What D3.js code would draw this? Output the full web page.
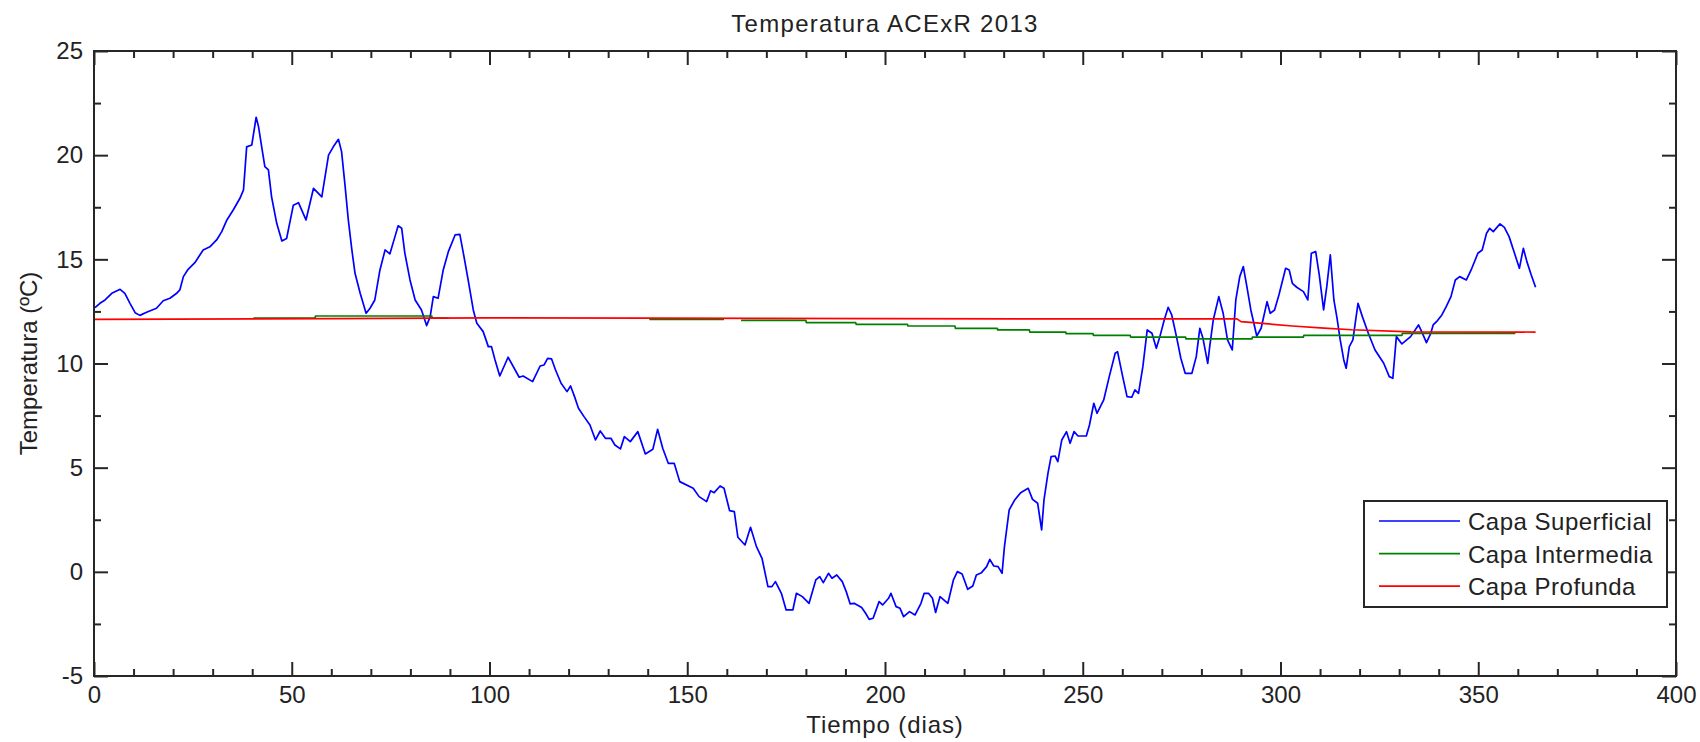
<!DOCTYPE html>
<html>
<head>
<meta charset="utf-8">
<script src="https://cdn.jsdelivr.net/npm/d3@7"></script>
<style>
  html, body { margin: 0; padding: 0; background: #ffffff; }
  svg { display: block; }
  text { font-family: "Liberation Sans", Arial, sans-serif; fill: #222; }
</style>
</head>
<body>
<svg id="chart" width="1700" height="742"></svg>
<script>
// ---------- DATA ----------
const titleText = "Temperatura ACExR 2013";
const xLabelText = "Tiempo (dias)";
const yLabelText = "Temperatura (ºC)";
const seriesNames = ["Capa Superficial", "Capa Intermedia", "Capa Profunda"];
const seriesColors = ["#0000ff", "#008000", "#ff0000"];
const xTicks = [0, 50, 100, 150, 200, 250, 300, 350, 400];
const yTicks = [-5, 0, 5, 10, 15, 20, 25];

// Capa Superficial: [day, temperature]
const superficial = [
  [0.25,12.68],[1.5,12.89],[2.8,13.05],[4.5,13.37],[6.6,13.56],[7.8,13.37],[9.1,12.89],[10.4,12.44],
  [11.6,12.31],[13.3,12.46],[15.8,12.65],[17.5,13.01],[19.2,13.13],[20.9,13.37],[21.7,13.53],[22.6,14.17],
  [23.8,14.52],[25.5,14.84],[27.6,15.45],[29.3,15.6],[31,15.93],[32.3,16.33],[33.6,16.89],[35.2,17.37],
  [36.9,17.93],[37.8,18.33],[38.6,20.4],[39.9,20.49],[41,21.82],[41.6,21.37],[42.4,20.4],[43.2,19.45],
  [44.1,19.29],[44.9,18.0],[46.2,16.73],[47.5,15.88],[48.7,16.0],[50.4,17.6],[51.7,17.72],[53.6,16.89],
  [55.5,18.41],[57.6,18.0],[59.3,20.0],[60.5,20.4],[61.8,20.76],[62.6,20.17],[63.5,18.49],[64.3,16.89],
  [65.2,15.45],[66,14.33],[67.3,13.37],[68.8,12.41],[69.8,12.65],[71,13.05],[72.3,14.49],[73.6,15.45],
  [74.8,15.26],[76.1,16.09],[76.9,16.61],[77.8,16.49],[78.6,15.29],[79.9,14.01],[81.2,13.05],[82.8,12.57],
  [84.1,11.82],[85,12.25],[85.8,13.21],[87,13.13],[88.3,14.49],[89.6,15.37],[91.3,16.17],[92.5,16.2],
  [93.4,15.29],[94.6,14.01],[95.9,12.57],[96.8,11.93],[98.4,11.53],[99.7,10.81],[100.5,10.81],[101.4,10.17],
  [102.6,9.4],[104.7,10.3],[107.5,9.34],[108.5,9.4],[110.9,9.13],[112.8,9.88],[113.8,9.93],[114.7,10.25],
  [115.7,10.22],[116.7,9.69],[118.1,9.05],[119.6,8.65],[120.5,8.92],[121.5,8.41],[122.5,7.85],[123.9,7.45],
  [125.4,7.05],[126.8,6.33],[128,6.76],[129.3,6.41],[130.7,6.41],[131.7,6.09],[133.1,5.9],[134.1,6.49],
  [135.6,6.25],[137.5,6.73],[139.4,5.66],[141.3,5.88],[142.5,6.84],[143.8,5.93],[145.2,5.21],[146.7,5.21],
  [148.1,4.33],[151.5,4.01],[153,3.61],[154.9,3.37],[155.9,3.89],[156.8,3.8],[158.3,4.12],[159.3,4.01],
  [160.7,2.94],[161.9,2.89],[162.8,1.66],[164.6,1.29],[166,2.14],[167.5,1.21],[168.9,0.65],[170.4,-0.71],
  [171.4,-0.71],[172.3,-0.47],[173.8,-1.03],[175,-1.83],[176.7,-1.83],[177.6,-1.03],[179.1,-1.19],[180.8,-1.51],
  [182.5,-0.39],[183.5,-0.23],[184.4,-0.52],[185.7,-0.07],[186.6,-0.31],[187.8,-0.15],[189.2,-0.47],[190.2,-0.95],
  [191.2,-1.54],[192.2,-1.51],[194.1,-1.71],[195.1,-1.99],[196,-2.28],[197,-2.23],[198.5,-1.43],[199.4,-1.59],
  [200.9,-1.27],[201.5,-1.03],[202.8,-1.67],[203.8,-1.75],[204.7,-2.15],[206.2,-1.91],[207.6,-2.07],[209.1,-1.51],
  [209.9,-1.03],[211,-1.03],[212,-1.27],[212.8,-1.95],[213.9,-1.19],[215.9,-1.51],[217.3,-0.39],[218.3,0.01],
  [219.5,-0.1],[220.9,-0.84],[222.2,-0.68],[223.1,-0.15],[224.4,-0.04],[225.7,0.25],[226.5,0.6],[227.5,0.28],
  [228.6,0.25],[229.6,-0.07],[230.2,1.21],[231.4,2.97],[232.8,3.45],[234.3,3.8],[236.2,4.01],[237.3,3.48],
  [238.6,3.29],[239.6,2.01],[240.2,3.45],[241.2,4.73],[242,5.53],[243,5.56],[243.7,5.29],[244.7,6.33],
  [245.9,6.73],[246.8,6.17],[247.8,6.73],[248.8,6.52],[250.9,6.52],[251.7,7.05],[252.8,8.09],[253.6,7.61],
  [255.3,8.25],[256.7,9.37],[258.2,10.49],[258.8,10.57],[260.1,9.37],[261.2,8.41],[262.4,8.38],[263.2,8.73],
  [264.1,8.57],[265.2,9.85],[266.3,11.61],[267.5,11.45],[268.6,10.73],[269.5,11.29],[270.6,12.09],[271.6,12.7],
  [272.5,12.33],[273.7,11.29],[274.8,10.25],[275.9,9.53],[277.6,9.53],[278.7,10.33],[279.6,11.69],[280.4,11.21],
  [281.6,10.01],[282.1,10.81],[283,12.09],[284.4,13.21],[285.5,12.41],[286.6,11.13],[287.8,10.65],[288.7,13.05],
  [289.7,14.17],[290.6,14.65],[291.5,13.69],[292.5,12.57],[294,11.32],[295.1,11.69],[296.6,12.97],[297.4,12.41],
  [298.5,12.57],[299.6,13.29],[301.3,14.57],[302.2,14.49],[303,13.85],[304.1,13.66],[305.8,13.45],[306.9,13.05],
  [307.8,15.29],[308.9,15.37],[309.8,14.25],[310.9,12.57],[311.7,13.69],[312.6,15.21],[313.5,13.05],[314.3,12.17],
  [315.1,11.13],[316,10.17],[316.6,9.77],[317.4,10.81],[318.3,11.13],[319.6,12.89],[320.7,12.25],[322.2,11.45],
  [323.9,10.65],[326.1,10.01],[327.5,9.37],[328.4,9.29],[329.3,11.29],[330.7,10.94],[332.9,11.29],[334.9,11.85],
  [335.7,11.53],[336.9,11.0],[338,11.45],[338.6,11.85],[339.7,12.06],[340.8,12.33],[341.9,12.73],[343.1,13.21],
  [344.2,14.01],[345.3,14.17],[347,14.01],[348.2,14.49],[349.9,15.29],[351,15.45],[352.1,16.25],[352.9,16.49],
  [353.8,16.33],[355.5,16.7],[356.6,16.53],[357.8,16.09],[358.9,15.45],[360.4,14.57],[361.4,15.53],[362.3,14.89],
  [363.4,14.25],[364.5,13.66]
];

// Capa Intermedia: [day, temperature]; null = no data
const intermedia = [
  [40.3,12.18],[55.9,12.18],[56,12.28],[85.4,12.28],[85.5,12.18],[89.6,12.18],[89.7,null],
  [140.4,12.12],[159.3,12.12],[159.4,null],[163.6,12.07],[180,12.07],[180.1,11.96],[192.6,11.96],
  [192.7,11.88],[205.7,11.88],[205.8,11.8],[217.7,11.8],[217.8,11.69],[228.4,11.69],[228.5,11.61],
  [236.5,11.61],[236.6,11.51],[245.7,11.51],[245.8,11.43],[252.6,11.43],[252.7,11.35],[262,11.35],
  [262.1,11.27],[276,11.27],[276.1,11.18],[292.8,11.18],[292.9,11.27],[305.8,11.27],[305.9,11.35],
  [330.7,11.35],[330.8,11.45],[359.4,11.45]
];

// Capa Profunda: [day, temperature]
const profunda = [
  [0.25,12.12],[60,12.15],[100,12.19],[140,12.18],[200,12.15],[289,12.14],[290,12.01],[297,11.9],
  [303,11.8],[311,11.7],[318,11.62],[333,11.52],[364.5,11.51]
];

// ---------- CHART ----------
const svg = d3.select("#chart");
const M = { left: 94, right: 1676, top: 51, bottom: 676 };
const x = d3.scaleLinear().domain([0, 400]).range([M.left, M.right]);
const y = d3.scaleLinear().domain([-5, 25]).range([M.bottom, M.top]);
const axisColor = "#262626";
const fontSize = 24;
const numFmt = v => String(v); // plain hyphen for negatives, as in the reference

// title
svg.append("text").attr("x", (M.left + M.right) / 2).attr("y", 32)
  .attr("text-anchor", "middle").style("font-size", fontSize + "px")
  .style("letter-spacing", "1.3px").text(titleText);

// lines
const line = d3.line().defined(d => d[1] !== null).x(d => x(d[0])).y(d => y(d[1]));
const allSeries = [superficial, intermedia, profunda];
allSeries.forEach((s, i) => {
  svg.append("path").datum(s).attr("fill", "none")
    .attr("stroke", seriesColors[i]).attr("stroke-width", 1.7)
    .attr("stroke-linejoin", "round").attr("d", line);
});

// axes (ticks inward on all four sides)
const xMinor = d3.range(0, 401, 10).filter(v => v % 50 !== 0);
const yMinor = d3.range(-5, 25.01, 2.5).filter(v => v % 5 !== 0);
function styleAxis(g) {
  g.select(".domain").remove();
  g.selectAll(".tick line").attr("stroke", axisColor).attr("stroke-width", 2);
  g.selectAll("text").style("font-size", fontSize + "px").style("font-family", '"Liberation Sans", Arial, sans-serif').attr("fill", "#222");
}
svg.append("g").attr("transform", `translate(0,${M.bottom})`)
  .call(d3.axisBottom(x).tickValues(xTicks).tickSize(-14).tickPadding(10).tickFormat(numFmt)).call(styleAxis);
svg.append("g").attr("transform", `translate(0,${M.bottom})`)
  .call(d3.axisBottom(x).tickValues(xMinor).tickSize(-7).tickFormat("")).call(styleAxis);
svg.append("g").attr("transform", `translate(0,${M.top})`)
  .call(d3.axisTop(x).tickValues(xTicks).tickSize(-14).tickFormat("")).call(styleAxis);
svg.append("g").attr("transform", `translate(0,${M.top})`)
  .call(d3.axisTop(x).tickValues(xMinor).tickSize(-7).tickFormat("")).call(styleAxis);
svg.append("g").attr("transform", `translate(${M.left},0)`)
  .call(d3.axisLeft(y).tickValues(yTicks).tickSize(-14).tickPadding(11).tickFormat(numFmt)).call(styleAxis);
svg.append("g").attr("transform", `translate(${M.left},0)`)
  .call(d3.axisLeft(y).tickValues(yMinor).tickSize(-7).tickFormat("")).call(styleAxis);
svg.append("g").attr("transform", `translate(${M.right},0)`)
  .call(d3.axisRight(y).tickValues(yTicks).tickSize(-14).tickFormat("")).call(styleAxis);
svg.append("g").attr("transform", `translate(${M.right},0)`)
  .call(d3.axisRight(y).tickValues(yMinor).tickSize(-7).tickFormat("")).call(styleAxis);

// box
svg.append("rect").attr("x", M.left).attr("y", M.top)
  .attr("width", M.right - M.left).attr("height", M.bottom - M.top)
  .attr("fill", "none").attr("stroke", axisColor).attr("stroke-width", 2);

// axis labels
svg.append("text").attr("x", (M.left + M.right) / 2).attr("y", 733)
  .attr("text-anchor", "middle").style("font-size", fontSize + "px")
  .style("letter-spacing", "0.9px").text(xLabelText);
svg.append("text").attr("transform", `translate(37,${(M.top + M.bottom) / 2}) rotate(-90)`)
  .attr("text-anchor", "middle").style("font-size", fontSize + "px").text(yLabelText);

// legend
const lg = svg.append("g");
lg.append("rect").attr("x", 1364).attr("y", 501).attr("width", 303).attr("height", 106)
  .attr("fill", "#ffffff").attr("stroke", axisColor).attr("stroke-width", 2);
seriesNames.forEach((name, i) => {
  const ly = 521 + i * 32.6;
  lg.append("line").attr("x1", 1379).attr("x2", 1460).attr("y1", ly).attr("y2", ly)
    .attr("stroke", seriesColors[i]).attr("stroke-width", 1.7);
  lg.append("text").attr("x", 1468).attr("y", ly + 9).style("font-size", fontSize + "px")
    .style("letter-spacing", "0.5px").text(name);
});
</script>
</body>
</html>
